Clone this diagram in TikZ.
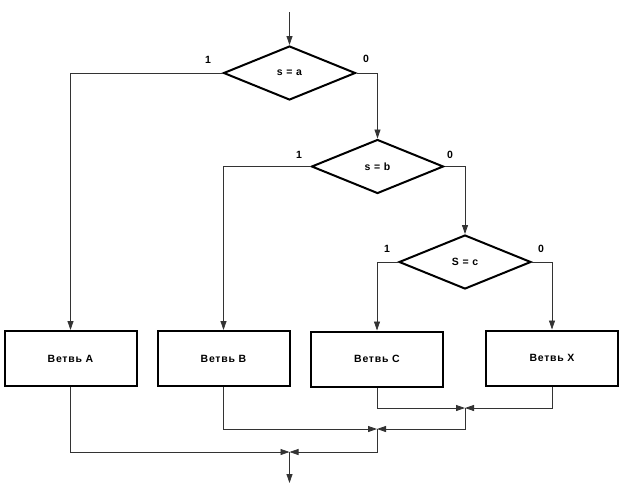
\documentclass[tikz,border=0pt]{standalone}
\usepackage{fontspec}
\setmainfont{Liberation Sans}
\newfontfamily\widefont{Liberation Sans}[LetterSpace=7]
\usetikzlibrary{arrows.meta,shapes.geometric}
\begin{document}
\begin{tikzpicture}[x=1pt,y=-1pt,
  txt/.style={font=\widefont\bfseries\fontsize{10.5}{12}\selectfont},
  dec/.style={draw, shape=diamond, minimum width=132pt, minimum height=54pt, inner sep=0pt, line width=2pt, txt},
  branch/.style={draw, line width=2pt, minimum width=132pt, minimum height=55pt, inner sep=0pt, txt},
  conn/.style={line width=0.8pt, draw=black!80, -{Triangle[length=9pt,width=6pt]}},
  lbl/.style={txt, inner sep=0pt}
]
\useasboundingbox (0,0) rectangle (624,499);
\node[dec] (da) at (289.5,73) {s = a};
\node[dec] (db) at (377.5,166.5) {s = b};
\node[dec] (dc) at (465,262) {S = c};
\node[branch] (ba) at (70.5,358.5) {Ветвь A};
\node[branch] (bb) at (223.5,358.5) {Ветвь B};
\node[branch] (bc) at (377,359) {Ветвь C};
\node[branch] (bx) at (552,358) {Ветвь X};
\node[lbl] (la1) at (208,60) {1};
\node[lbl] (la0) at (366,59) {0};
\node[lbl] (lb1) at (299,155) {1};
\node[lbl] (lb0) at (450,155) {0};
\node[lbl] (lc1) at (387,249) {1};
\node[lbl] (lc0) at (541,249) {0};
\coordinate (in) at (289.5,12);
\coordinate (j1) at (465,408);
\coordinate (j2) at (377,429);
\coordinate (j3) at (289.5,452);
\coordinate (out) at (289.5,483);
\draw[conn] (in) -- (da.north);
\draw[conn] (da.west) -| (ba.north);
\draw[conn] (da.east) -| (db.north);
\draw[conn] (db.west) -| (bb.north);
\draw[conn] (db.east) -| (dc.north);
\draw[conn] (dc.west) -| (bc.north);
\draw[conn] (dc.east) -| (bx.north);
\draw[conn] (bc.south) |- (j1);
\draw[conn] (bx.south) |- (j1);
\draw[conn] (bb.south) |- (j2);
\draw[conn] (j1) |- (j2);
\draw[conn] (ba.south) |- (j3);
\draw[conn] (j2) |- (j3);
\draw[conn] (j3) -- (out);
\end{tikzpicture}
\end{document}
